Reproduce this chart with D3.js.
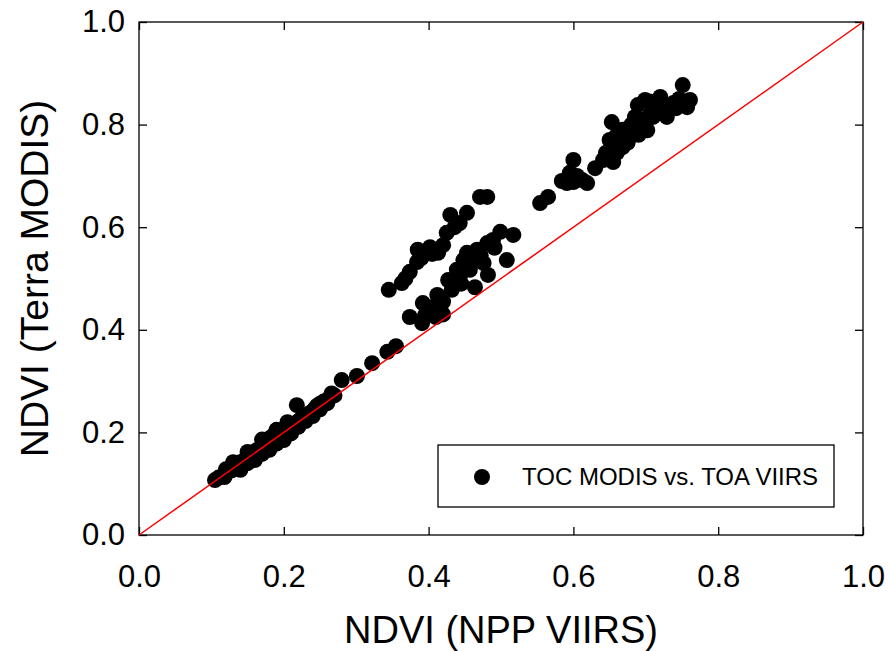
<!DOCTYPE html>
<html>
<head>
<meta charset="utf-8">
<script src="https://cdn.jsdelivr.net/npm/d3@7"></script>
<style>
  body { margin: 0; background: #fff; }
  svg { font-family: "Liberation Sans", Arial, sans-serif; }
  .axis path, .axis line { stroke: #000; stroke-width: 1.3; }
  .axis text { font-size: 31px; fill: #000; }
</style>
</head>
<body>
<svg id="chart" width="890" height="651"></svg>
<script>
// NDVI pairs: [VIIRS, MODIS]
var lowPts = [
  [0.105, 0.107], [0.11, 0.112], [0.118, 0.113], [0.122, 0.122], [0.128, 0.126],
  [0.132, 0.134], [0.136, 0.13], [0.14, 0.142], [0.145, 0.138], [0.148, 0.15],
  [0.152, 0.146], [0.156, 0.158], [0.16, 0.152], [0.163, 0.166], [0.167, 0.16],
  [0.17, 0.172], [0.174, 0.168], [0.177, 0.182], [0.18, 0.174], [0.182, 0.19],
  [0.186, 0.183], [0.188, 0.198], [0.192, 0.188], [0.196, 0.2], [0.2, 0.193],
  [0.203, 0.208], [0.207, 0.2], [0.21, 0.214], [0.214, 0.208], [0.218, 0.253],
  [0.22, 0.222], [0.225, 0.228], [0.23, 0.233], [0.236, 0.238], [0.242, 0.245],
  [0.246, 0.252], [0.25, 0.256], [0.255, 0.26], [0.262, 0.266], [0.266, 0.276],
  [0.28, 0.302], [0.301, 0.31], [0.322, 0.335], [0.343, 0.357], [0.355, 0.368],
  [0.13, 0.142], [0.15, 0.162], [0.17, 0.186], [0.19, 0.205], [0.14, 0.127],
  [0.16, 0.146], [0.18, 0.166], [0.2, 0.185], [0.22, 0.211], [0.24, 0.232],
  [0.26, 0.257], [0.27, 0.272], [0.12, 0.128], [0.205, 0.22],
  [0.15, 0.14], [0.17, 0.158], [0.19, 0.178], [0.21, 0.198], [0.23, 0.222], [0.25, 0.245]
];
var midUpperPts = [
  [0.345, 0.478], [0.363, 0.491], [0.374, 0.513], [0.384, 0.532], [0.385, 0.556],
  [0.402, 0.561], [0.413, 0.55], [0.425, 0.589], [0.43, 0.624], [0.443, 0.608],
  [0.453, 0.628], [0.471, 0.659], [0.481, 0.659], [0.368, 0.5], [0.39, 0.54],
  [0.395, 0.55], [0.42, 0.565], [0.436, 0.6], [0.405, 0.548]
];
var midLowerPts = [
  [0.374, 0.425], [0.391, 0.413], [0.392, 0.452], [0.402, 0.444], [0.416, 0.439],
  [0.412, 0.468], [0.427, 0.497], [0.439, 0.517], [0.443, 0.503], [0.448, 0.536],
  [0.453, 0.55], [0.457, 0.517], [0.464, 0.483], [0.467, 0.556], [0.481, 0.569],
  [0.482, 0.507], [0.489, 0.575], [0.499, 0.591], [0.508, 0.536], [0.517, 0.585],
  [0.405, 0.43], [0.42, 0.43], [0.41, 0.425], [0.42, 0.455], [0.432, 0.478],
  [0.445, 0.49], [0.45, 0.52], [0.46, 0.537], [0.472, 0.545], [0.476, 0.53],
  [0.491, 0.56], [0.4, 0.435], [0.395, 0.428]
];
var highPts = [
  [0.554, 0.647], [0.565, 0.659], [0.591, 0.686], [0.595, 0.706], [0.6, 0.731],
  [0.612, 0.692], [0.619, 0.686], [0.641, 0.731], [0.65, 0.77], [0.653, 0.805],
  [0.655, 0.727], [0.662, 0.76], [0.668, 0.756], [0.672, 0.775], [0.678, 0.789],
  [0.685, 0.815], [0.689, 0.838], [0.699, 0.848], [0.702, 0.789], [0.706, 0.82],
  [0.71, 0.815], [0.72, 0.854], [0.729, 0.815], [0.733, 0.83], [0.738, 0.842],
  [0.751, 0.877], [0.757, 0.834], [0.761, 0.848], [0.605, 0.7], [0.63, 0.715],
  [0.645, 0.745], [0.66, 0.78], [0.668, 0.79], [0.68, 0.8], [0.69, 0.78],
  [0.695, 0.81], [0.715, 0.835], [0.725, 0.825], [0.742, 0.832], [0.746, 0.85],
  [0.705, 0.845], [0.66, 0.745], [0.675, 0.765], [0.584, 0.69], [0.6, 0.688]
];
var ticks = [0.0, 0.2, 0.4, 0.6, 0.8, 1.0];
var xTitle = "NDVI (NPP VIIRS)";
var yTitle = "NDVI (Terra MODIS)";
var legendLabel = "TOC MODIS vs. TOA VIIRS";

var svg = d3.select("#chart");
var pLeft = 139, pTop = 22, pRight = 863, pBottom = 535;

var x = d3.scaleLinear().domain([0, 1]).range([pLeft, pRight]);
var y = d3.scaleLinear().domain([0, 1]).range([pBottom, pTop]);

// frame
svg.append("rect")
  .attr("x", pLeft).attr("y", pTop)
  .attr("width", pRight - pLeft).attr("height", pBottom - pTop)
  .attr("fill", "none").attr("stroke", "#000").attr("stroke-width", 1.3);

// axes, ticks pointing inward on all four sides
var fmt = d3.format(".1f");
function noDomain(g) { g.select(".domain").remove(); }
svg.append("g").attr("class", "axis")
  .attr("transform", "translate(0," + pBottom + ")")
  .call(d3.axisBottom(x).tickValues(ticks).tickFormat(fmt).tickSizeInner(-8).tickSizeOuter(0).tickPadding(30))
  .call(noDomain);
svg.append("g").attr("class", "axis")
  .attr("transform", "translate(" + pLeft + ",0)")
  .call(d3.axisLeft(y).tickValues(ticks).tickFormat(fmt).tickSizeInner(-8).tickSizeOuter(0).tickPadding(14))
  .call(noDomain);
svg.append("g").attr("class", "axis")
  .attr("transform", "translate(0," + pTop + ")")
  .call(d3.axisTop(x).tickValues(ticks).tickFormat("").tickSizeInner(-8).tickSizeOuter(0))
  .call(noDomain);
svg.append("g").attr("class", "axis")
  .attr("transform", "translate(" + pRight + ",0)")
  .call(d3.axisRight(y).tickValues(ticks).tickFormat("").tickSizeInner(-8).tickSizeOuter(0))
  .call(noDomain);

// points
var allPts = lowPts.concat(midUpperPts, midLowerPts, highPts);
svg.append("g").selectAll("circle").data(allPts).enter().append("circle")
  .attr("cx", function(d) { return x(d[0]); })
  .attr("cy", function(d) { return y(d[1]); })
  .attr("r", 8)
  .attr("fill", "#000");

// 1:1 line, drawn over the points
svg.append("line")
  .attr("x1", x(0)).attr("y1", y(0)).attr("x2", x(1)).attr("y2", y(1))
  .attr("stroke", "#ff0000").attr("stroke-width", 1.5);

// titles
svg.append("text")
  .attr("x", (pLeft + pRight) / 2).attr("y", 643)
  .attr("text-anchor", "middle").attr("font-size", 38).text(xTitle);
svg.append("text")
  .attr("transform", "translate(48," + ((pTop + pBottom) / 2) + ") rotate(-90)")
  .attr("text-anchor", "middle").attr("font-size", 39).text(yTitle);

// legend
var lg = svg.append("g");
lg.append("rect").attr("x", 438).attr("y", 445).attr("width", 396).attr("height", 62)
  .attr("fill", "#fff").attr("stroke", "#000").attr("stroke-width", 1.3);
lg.append("circle").attr("cx", 482).attr("cy", 477).attr("r", 8).attr("fill", "#000");
lg.append("text").attr("x", 522).attr("y", 485).attr("font-size", 24).text(legendLabel);
</script>
</body>
</html>
